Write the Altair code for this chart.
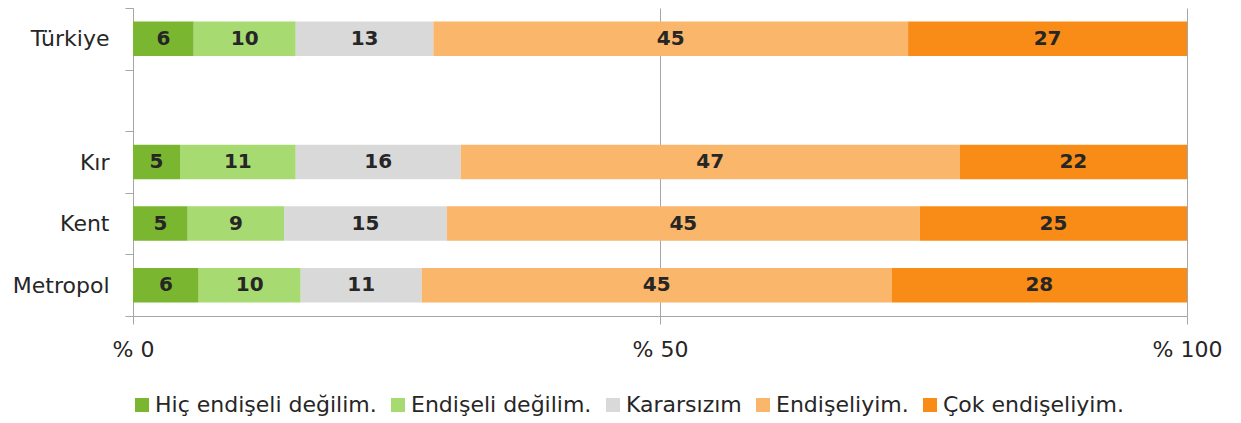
import altair as alt
import pandas as pd

regions = ["Türkiye", "Kır", "Kent", "Metropol"]
y_domain = ["Türkiye", " ", "Kır", "Kent", "Metropol"]
responses = ["Hiç endişeli değilim.", "Endişeli değilim.", "Kararsızım", "Endişeliyim.", "Çok endişeliyim."]
colors = ["#7AB62F", "#A8DA72", "#D9D9D9", "#FAB66A", "#F98C16"]

turkiye_values = [5.76, 9.68, 13.06, 45.04, 26.47]
kir_values = [4.46, 10.98, 15.66, 47.33, 21.57]
kent_values = [5.19, 9.14, 15.45, 44.87, 25.36]
metropol_values = [6.23, 9.68, 11.49, 44.58, 28.02]

turkiye_labels = [6, 10, 13, 45, 27]
kir_labels = [5, 11, 16, 47, 22]
kent_labels = [5, 9, 15, 45, 25]
metropol_labels = [6, 10, 11, 45, 28]

x_ticks = [0, 50, 100]

rows = []
for region, vals, labs in zip(
    regions,
    [turkiye_values, kir_values, kent_values, metropol_values],
    [turkiye_labels, kir_labels, kent_labels, metropol_labels],
):
    for i, (resp, v, l) in enumerate(zip(responses, vals, labs)):
        rows.append({"region": region, "response": resp, "order": i, "value": v, "label": l})
df = pd.DataFrame(rows)

FONT = "DejaVu Sans"
TXT = "#262626"
GRID = "#A6A6A6"

base = alt.Chart(df).transform_stack(
    stack="value",
    groupby=["region"],
    as_=["x0", "x1"],
    sort=[alt.SortField("order", order="ascending")],
).transform_calculate(mid="(datum.x0 + datum.x1) / 2")

y_scale = alt.Scale(domain=y_domain, paddingInner=0, paddingOuter=0)

bars = base.mark_bar(size=34.5).encode(
    x=alt.X(
        "x0:Q",
        scale=alt.Scale(domain=[0, 100], nice=False, clamp=True),
        axis=alt.Axis(
            values=x_ticks,
            labelExpr="'% ' + datum.value",
            title=None,
            grid=True,
            gridColor=GRID,
            gridWidth=1,
            domainColor=GRID,
            tickColor=GRID,
            tickSize=8,
            labelPadding=15,
            labelFlush=False,
            labelFont=FONT,
            labelFontSize=22,
            labelColor=TXT,
        ),
    ),
    x2="x1:Q",
    y=alt.Y(
        "region:N",
        scale=y_scale,
        axis=alt.Axis(
            title=None,
            tickBand="extent",
            tickSize=8,
            tickColor=GRID,
            domainColor=GRID,
            labelPadding=16,
            labelFont=FONT,
            labelFontSize=22,
            labelColor=TXT,
        ),
    ),
    color=alt.Color(
        "response:N",
        scale=alt.Scale(domain=responses, range=colors),
        legend=alt.Legend(
            title=None,
            orient="none",
            legendX=-2,
            legendY=386,
            direction="horizontal",
            columns=5,
            symbolType="square",
            symbolSize=196,
            symbolStrokeWidth=0,
            labelFont=FONT,
            labelFontSize=22,
            labelColor=TXT,
            labelLimit=400,
            labelOffset=2,
            columnPadding=10,
            padding=0,
        ),
    ),
)

text = base.mark_text(font=FONT, fontWeight="bold", fontSize=20, color=TXT).encode(
    x=alt.X("mid:Q", scale=alt.Scale(domain=[0, 100], nice=False)),
    y=alt.Y("region:N", scale=y_scale),
    text=alt.Text("label:Q"),
)

chart = (
    alt.layer(bars, text)
    .properties(
        width=1054,
        height=308,
        autosize=alt.AutoSizeParams(type="none"),
        padding={"left": 125, "top": 0, "right": 46, "bottom": 101},
    )
    .configure_view(stroke=None)
)

chart.save("out.html", embed_options={"renderer": "svg", "actions": False})
